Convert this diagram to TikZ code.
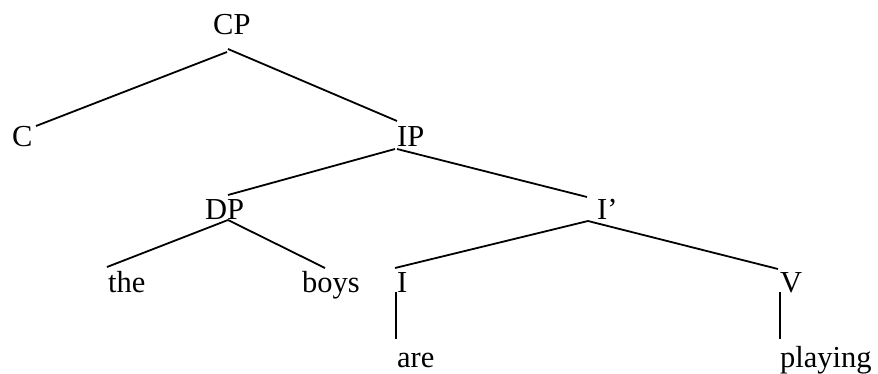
\documentclass[tikz,border=0pt]{standalone}
\usepackage{fontspec}
\setmainfont{Liberation Serif}
\begin{document}
\begin{tikzpicture}[x=1pt,y=1pt,
  word/.style={anchor=base west,inner sep=0pt,font=\fontsize{30.5}{32}\selectfont},
  branch/.style={line width=1.8pt,line cap=butt}]
\useasboundingbox (0,0) rectangle (878,373);
% labels of the tree
\node[word] (CP)  at (213,338) {CP};
\node[word] (C)   at (12,227)  {C};
\node[word] (IP)  at (397,227) {IP};
\node[word] (DP)  at (205,154) {DP};
\node[word] (Ibar) at (597,154) {I’};
\node[word] (the) at (108,81)  {the};
\node[word] (boys) at (302,81) {boys};
\node[word] (I)   at (397,81)  {I};
\node[word] (V)   at (780,81)  {V};
\node[word] (are) at (397,6)   {are};
\node[word] (playing) at (780,6) {playing};
% branches
\draw[branch] ([shift={(14,-17)}]CP.base west) -- ([shift={(24,20)}]C.base west);
\draw[branch] ([shift={(15,-14)}]CP.base west) -- ([shift={(0,25)}]IP.base west);
\draw[branch] ([shift={(-2,-3)}]IP.base west) -- ([shift={(23,24)}]DP.base west);
\draw[branch] ([shift={(0,-3)}]IP.base west) -- ([shift={(-10,22)}]Ibar.base west);
\draw[branch] ([shift={(23,-1)}]DP.base west) -- ([shift={(-1,25)}]the.base west);
\draw[branch] ([shift={(23,-1)}]DP.base west) -- ([shift={(23,24)}]boys.base west);
\draw[branch] ([shift={(-9,-2)}]Ibar.base west) -- ([shift={(-2,24)}]I.base west);
\draw[branch] ([shift={(-9,-2)}]Ibar.base west) -- ([shift={(-2,23)}]V.base west);
\draw[branch] ([shift={(-1,0)}]I.base west) -- ([shift={(-1,28)}]are.base west);
\draw[branch] ([shift={(0,0)}]V.base west) -- ([shift={(0,28)}]playing.base west);
\end{tikzpicture}
\end{document}
